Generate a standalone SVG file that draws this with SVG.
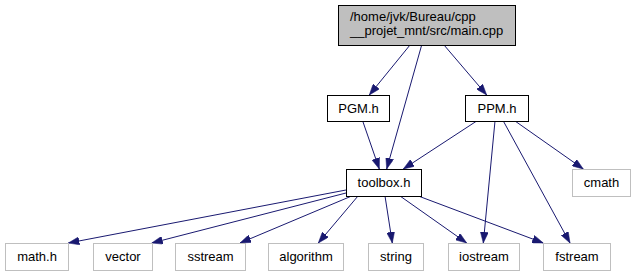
<svg xmlns="http://www.w3.org/2000/svg" width="635" height="276" viewBox="0 0 635 276">
  <style>
    text { font-family: "Liberation Sans", Arial, sans-serif; font-size: 13px; fill: #000; }
    .c { text-anchor: middle; }
    .main rect { fill: #bfbfbf; stroke: #000; stroke-width: 1; }
    .inc rect { fill: #fff; stroke: #000; stroke-width: 1; }
    .leaf rect { fill: #fff; stroke: #bfbfbf; stroke-width: 1; }
    #edges path { fill: none; stroke: #191970; stroke-width: 1; marker-end: url(#arrow); }
  </style>
  <defs>
    <marker id="arrow" viewBox="0 0 11 8" refX="11" refY="4" markerWidth="11" markerHeight="8" markerUnits="userSpaceOnUse" orient="auto">
      <path d="M0,0 L11,4 L0,8 z" fill="#191970" stroke="#191970" stroke-width="0.5"/>
    </marker>
  </defs>
  <rect width="635" height="276" fill="#fff"/>

  <g id="edges">
    <path d="M410,45 L369.3,95"/>
    <path d="M421.7,45 L386.7,169"/>
    <path d="M444,45 L486.7,95"/>
    <path d="M362.7,121 L379.3,169"/>
    <path d="M476.7,121 L403.3,169"/>
    <path d="M495,121 L483.3,243"/>
    <path d="M503.3,121 L570,243"/>
    <path d="M515,121 L583.3,169"/>
    <path d="M346,190 L68.3,243"/>
    <path d="M346,193 L151.7,243"/>
    <path d="M351.7,196 L240,243"/>
    <path d="M358,196 L318.3,243"/>
    <path d="M385,196 L392.3,243"/>
    <path d="M400,196 L466.7,243"/>
    <path d="M418.3,196 L543.3,243"/>
  </g>

  <g id="node-main" class="main">
    <rect x="338.5" y="5.5" width="177" height="40"/>
    <text x="350" y="21">/home/jvk/Bureau/cpp</text>
    <text x="350" y="35">__projet_mnt/src/main.cpp</text>
  </g>
  <g id="node-pgm" class="inc">
    <rect x="327.5" y="95.5" width="62" height="26"/>
    <text class="c" x="358.5" y="112.5">PGM.h</text>
  </g>
  <g id="node-ppm" class="inc">
    <rect x="465.5" y="95.5" width="63" height="26"/>
    <text class="c" x="497" y="112.5">PPM.h</text>
  </g>
  <g id="node-toolbox" class="inc">
    <rect x="346.5" y="169.5" width="75" height="27"/>
    <text class="c" x="384" y="187">toolbox.h</text>
  </g>
  <g id="node-cmath" class="leaf">
    <rect x="572.5" y="169.5" width="58" height="27"/>
    <text class="c" x="601.5" y="187">cmath</text>
  </g>
  <g id="node-math" class="leaf">
    <rect x="5.5" y="243.5" width="63" height="27"/>
    <text class="c" x="37" y="261">math.h</text>
  </g>
  <g id="node-vector" class="leaf">
    <rect x="93.5" y="243.5" width="59" height="27"/>
    <text class="c" x="123" y="261">vector</text>
  </g>
  <g id="node-sstream" class="leaf">
    <rect x="175.5" y="243.5" width="70" height="27"/>
    <text class="c" x="210.5" y="261">sstream</text>
  </g>
  <g id="node-algorithm" class="leaf">
    <rect x="268.5" y="243.5" width="75" height="27"/>
    <text class="c" x="306" y="261">algorithm</text>
  </g>
  <g id="node-string" class="leaf">
    <rect x="368.5" y="243.5" width="55" height="27"/>
    <text class="c" x="396" y="261">string</text>
  </g>
  <g id="node-iostream" class="leaf">
    <rect x="448.5" y="243.5" width="71" height="27"/>
    <text class="c" x="484" y="261">iostream</text>
  </g>
  <g id="node-fstream" class="leaf">
    <rect x="543.5" y="243.5" width="67" height="27"/>
    <text class="c" x="577" y="261">fstream</text>
  </g>
</svg>
